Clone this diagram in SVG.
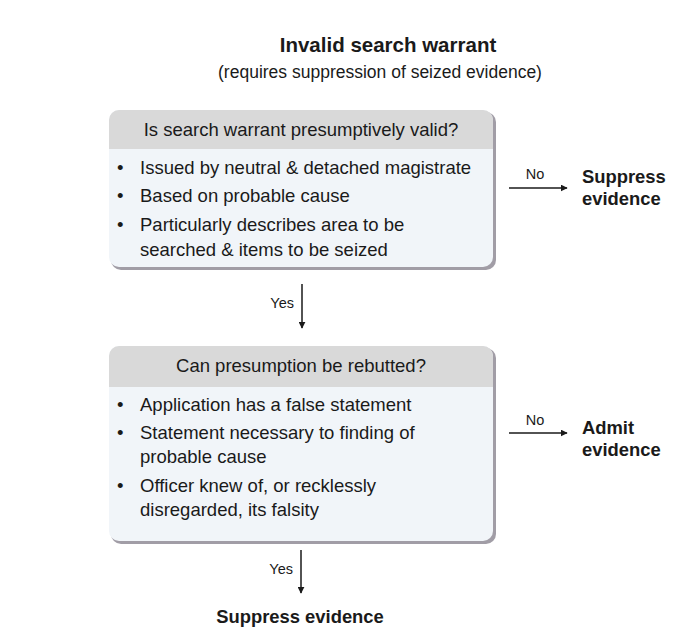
<svg xmlns="http://www.w3.org/2000/svg" width="688" height="629" viewBox="0 0 688 629">
  <style>
    text { font-family: "Liberation Sans", Arial, sans-serif; fill: #1a1a1a; }
    .title { font-size: 20.5px; font-weight: bold; }
    .sub { font-size: 17.5px; }
    .head { font-size: 18.5px; text-anchor: middle; }
    .item { font-size: 18.5px; }
    .lbl { font-size: 14.5px; }
    .out { font-size: 18.4px; font-weight: bold; }
    .box { fill: #f1f5f9; }
    .hdr { fill: #d9d9d9; }
    .shadow { fill: #8a8590; }
    .wire { stroke: #1a1a1a; stroke-width: 1.5; fill: none; marker-end: url(#arrow); }
  </style>
  <defs>
    <marker id="arrow" viewBox="0 0 10 10" refX="9" refY="5" markerWidth="7" markerHeight="7" markerUnits="userSpaceOnUse" orient="auto">
      <path d="M0,0 L10,5 L0,10 z" fill="#1a1a1a"/>
    </marker>
    <clipPath id="clip1"><rect x="109" y="110" width="384" height="157" rx="10"/></clipPath>
    <clipPath id="clip2"><rect x="109" y="346" width="384" height="195" rx="10"/></clipPath>
  </defs>
  <rect width="688" height="629" fill="#ffffff"/>

  <g id="title">
    <text class="title" x="388" y="52" text-anchor="middle">Invalid search warrant</text>
    <text class="sub" x="380" y="78" text-anchor="middle">(requires suppression of seized evidence)</text>
  </g>

  <g id="valid-check">
    <rect class="shadow" x="111" y="112" width="385" height="158" rx="10" opacity="0.8"/>
    <rect class="box" x="109" y="110" width="384" height="157" rx="10"/>
    <rect class="hdr" x="109" y="110" width="384" height="39" clip-path="url(#clip1)"/>
    <text class="head" x="301" y="136">Is search warrant presumptively valid?</text>
    <text class="item" x="117" y="174">•</text>
    <text class="item" x="140" y="174">Issued by neutral &amp; detached magistrate</text>
    <text class="item" x="117" y="202">•</text>
    <text class="item" x="140" y="202">Based on probable cause</text>
    <text class="item" x="117" y="231">•</text>
    <text class="item" x="140" y="231">Particularly describes area to be</text>
    <text class="item" x="140" y="256">searched &amp; items to be seized</text>
  </g>

  <g id="rebut-check">
    <rect class="shadow" x="111" y="348" width="385" height="196" rx="10" opacity="0.8"/>
    <rect class="box" x="109" y="346" width="384" height="195" rx="10"/>
    <rect class="hdr" x="109" y="346" width="384" height="41" clip-path="url(#clip2)"/>
    <text class="head" x="301" y="372">Can presumption be rebutted?</text>
    <text class="item" x="117" y="411">•</text>
    <text class="item" x="140" y="411">Application has a false statement</text>
    <text class="item" x="117" y="439">•</text>
    <text class="item" x="140" y="439">Statement necessary to finding of</text>
    <text class="item" x="140" y="463">probable cause</text>
    <text class="item" x="117" y="492">•</text>
    <text class="item" x="140" y="492">Officer knew of, or recklessly</text>
    <text class="item" x="140" y="516">disregarded, its falsity</text>
  </g>

  <g id="suppress-1">
    <text class="out" x="582" y="183">Suppress</text>
    <text class="out" x="582" y="205">evidence</text>
  </g>

  <g id="admit">
    <text class="out" x="582" y="434">Admit</text>
    <text class="out" x="582" y="456">evidence</text>
  </g>

  <g id="suppress-2">
    <text class="out" x="300" y="623" text-anchor="middle">Suppress evidence</text>
  </g>

  <g id="connectors">
    <line class="wire" x1="509" y1="188" x2="567" y2="188"/>
    <text class="lbl" x="535" y="179" text-anchor="middle">No</text>
    <line class="wire" x1="302" y1="284" x2="302" y2="328"/>
    <text class="lbl" x="294" y="308" text-anchor="end">Yes</text>
    <line class="wire" x1="509" y1="433" x2="567" y2="433"/>
    <text class="lbl" x="535" y="425" text-anchor="middle">No</text>
    <line class="wire" x1="301" y1="550" x2="301" y2="593"/>
    <text class="lbl" x="293" y="574" text-anchor="end">Yes</text>
  </g>
</svg>
